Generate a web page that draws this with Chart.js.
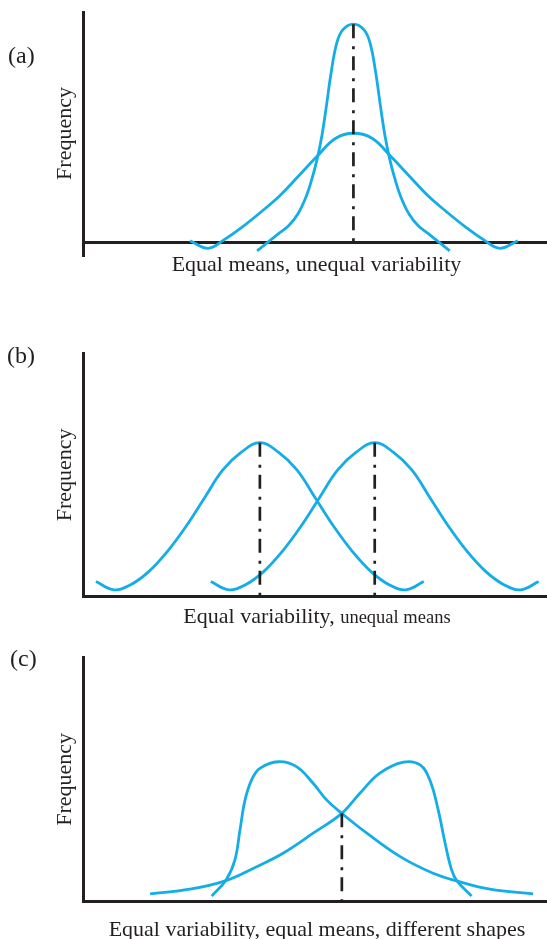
<!DOCTYPE html>
<html>
<head>
<meta charset="utf-8">
<title>Equal and unequal means, variability and shapes</title>
<script src="https://cdn.jsdelivr.net/npm/chart.js@4.4.1/dist/chart.umd.min.js"></script>
<style>
  html, body { margin: 0; padding: 0; background: #fff; }
  #page { position: relative; width: 547px; height: 939px; overflow: hidden; }
  canvas { position: absolute; left: 0; }
</style>
</head>
<body>
<div id="page">
  <canvas id="chart-a" width="547" height="290" style="top:0px"></canvas>
  <canvas id="chart-b" width="547" height="300" style="top:330px"></canvas>
  <canvas id="chart-c" width="547" height="299" style="top:640px"></canvas>
</div>
<script>
// --- 1. Data (x: 0-100 along the axis, y: frequency) ---

// (a) equal means, unequal variability
const aNarrowX = [37.4, 42.1, 44.2, 46.2, 48.0, 49.3, 50.4, 51.4, 52.4, 53.4, 54.6, 55.9, 58.2, 60.5, 61.8, 63.0, 64.0, 65.0, 66.0, 67.1, 68.4, 70.2, 72.2, 74.3, 79.0];
const aNarrowY = [-3.9, 4.1, 7.6, 13.0, 21.0, 29.5, 38.5, 49.0, 63.0, 78.0, 91.3, 97.4, 100, 97.4, 91.3, 78.0, 63.0, 49.0, 38.5, 29.5, 21.0, 13.0, 7.6, 4.1, -3.9];
const aWideX = [22.9, 26.8, 30.3, 34.3, 38.3, 42.3, 46.3, 50.3, 54.3, 58.3, 62.3, 66.3, 70.3, 74.3, 78.3, 82.3, 86.3, 89.8, 93.7];
const aWideY = [0.7, -2.75, 1.2, 7.2, 14.0, 21.3, 30.3, 39.3, 47.6, 50, 47.6, 39.3, 30.3, 21.3, 14.0, 7.2, 1.2, -2.75, 0.7];
const aMeans = [58.2];
const aMeanTops = [100];

// (b) equal variability, unequal means
const bLeftX = [2.6, 6.5, 10.0, 14.0, 18.0, 22.0, 26.0, 30.0, 34.0, 38.0, 42.0, 46.0, 50.0, 54.0, 58.0, 62.0, 66.0, 69.5, 73.4];
const bLeftY = [6.2, 2.8, 4.8, 10.3, 18.5, 28.7, 40.4, 52.0, 59.3, 63.2, 59.3, 52.0, 40.4, 28.7, 18.5, 10.3, 4.8, 2.8, 6.2];
const bRightX = [27.4, 31.3, 34.8, 38.8, 42.8, 46.8, 50.8, 54.8, 58.8, 62.8, 66.8, 70.8, 74.8, 78.8, 82.8, 86.8, 90.8, 94.3, 98.2];
const bRightY = [6.2, 2.8, 4.8, 10.3, 18.5, 28.7, 40.4, 52.0, 59.3, 63.2, 59.3, 52.0, 40.4, 28.7, 18.5, 10.3, 4.8, 2.8, 6.2];
const bMeans = [38.0, 62.8];
const bMeanTops = [63.2, 63.2];

// (c) equal variability, equal means, different shapes
const cLeftX = [27.6, 30.7, 32.6, 33.7, 34.8, 36.2, 38.0, 42.0, 45.9, 49.5, 52.4, 55.7, 61.1, 68.3, 75.4, 80.5, 87.7, 97.0];
const cLeftY = [2.3, 8.9, 17.0, 29.3, 41.6, 49.7, 54.5, 57.2, 55.2, 48.4, 41.6, 36.1, 28.0, 18.4, 11.6, 8.5, 5.1, 3.2];
const cRightX = [14.3, 22.9, 30.7, 37.3, 43.0, 49.5, 55.7, 59.6, 63.9, 69.0, 72.6, 74.7, 76.5, 78.0, 79.4, 80.5, 83.7];
const cRightY = [3.2, 5.1, 8.6, 14.3, 19.8, 28.0, 36.1, 44.3, 52.5, 57.0, 55.9, 49.7, 37.5, 23.9, 13.0, 8.6, 2.3];
const cMeans = [55.7];
const cMeanTops = [36.1];

// --- 2. Styles ---
const INK = "#231f20";
const CYAN = "#15ade6";
const SERIF = '"Liberation Serif", "DejaVu Serif", serif';

const pts = (xs, ys) => xs.map((x, i) => ({ x: x, y: ys[i] }));

function curve(xs, ys) {
  return {
    data: pts(xs, ys),
    borderColor: CYAN,
    borderWidth: 2.8,
    pointRadius: 0,
    fill: false,
    tension: 0.4
  };
}

function meanLines(means, tops) {
  return means.map((m, i) => ({
    data: [{ x: m, y: tops[i] }, { x: m, y: 0 }],
    borderColor: INK,
    borderWidth: 2.7,
    borderDash: [14, 8, 3, 7],
    pointRadius: 0,
    fill: false
  }));
}

// panel letter + caption (caption may mix font sizes)
const panelText = {
  id: "panelText",
  afterDraw(chart, args, opts) {
    const { ctx, chartArea } = chart;
    ctx.save();
    ctx.fillStyle = INK;
    ctx.textBaseline = "alphabetic";
    ctx.textAlign = "left";
    ctx.font = "24px " + SERIF;
    ctx.fillText(opts.letter, opts.letterX, opts.letterY);

    const parts = opts.caption;
    let total = 0;
    parts.forEach(p => { ctx.font = p[1] + "px " + SERIF; total += ctx.measureText(p[0]).width; });
    let x = (chartArea.left + chartArea.right) / 2 + opts.captionShift - total / 2;
    parts.forEach(p => {
      ctx.font = p[1] + "px " + SERIF;
      ctx.fillText(p[0], x, opts.captionY);
      x += ctx.measureText(p[0]).width;
    });
    ctx.restore();
  }
};

function makeChart(id, datasets, yMin, yMax, padding, text) {
  return new Chart(document.getElementById(id), {
    type: "line",
    data: { datasets: datasets },
    plugins: [panelText],
    options: {
      responsive: false,
      animation: false,
      events: [],
      layout: { padding: padding },
      plugins: {
        legend: { display: false },
        tooltip: { enabled: false },
        panelText: text
      },
      scales: {
        x: { type: "linear", min: 0, max: 100, display: false },
        y: {
          type: "linear",
          min: yMin,
          max: yMax,
          afterBuildTicks: axis => { axis.ticks = [{ value: 0 }]; },
          ticks: { display: false },
          grid: { color: INK, lineWidth: 3, drawTicks: false },
          border: { display: true, color: INK, width: 3 },
          title: {
            display: true,
            text: "Frequency",
            color: INK,
            font: { family: SERIF, size: 22 },
            padding: { top: 0, bottom: 5 }
          }
        }
      }
    }
  });
}

// --- 3. Charts ---
makeChart("chart-a",
  meanLines(aMeans, aMeanTops).concat([curve(aNarrowX, aNarrowY), curve(aWideX, aWideY)]),
  -5.83, 105.6,
  { left: 52.5, right: 0, top: 12, bottom: 35 },
  { letter: "(a)", letterX: 8, letterY: 63,
    caption: [["Equal means, unequal variability", 22]], captionShift: 1, captionY: 271 });

makeChart("chart-b",
  meanLines(bMeans, bMeanTops).concat([curve(bLeftX, bLeftY), curve(bRightX, bRightY)]),
  0, 100,
  { left: 52.5, right: 0, top: 23, bottom: 33.3 },
  { letter: "(b)", letterX: 7, letterY: 33,
    caption: [["Equal variability, ", 22], ["unequal means", 18.5]], captionShift: 1.5, captionY: 293 });

makeChart("chart-c",
  meanLines(cMeans, cMeanTops).concat([curve(cLeftX, cLeftY), curve(cRightX, cRightY)]),
  0, 100,
  { left: 52.5, right: 0, top: 17, bottom: 37.3 },
  { letter: "(c)", letterX: 10, letterY: 26,
    caption: [["Equal variability, equal means, different shapes", 22]], captionShift: 1.5, captionY: 296 });
</script>
</body>
</html>
